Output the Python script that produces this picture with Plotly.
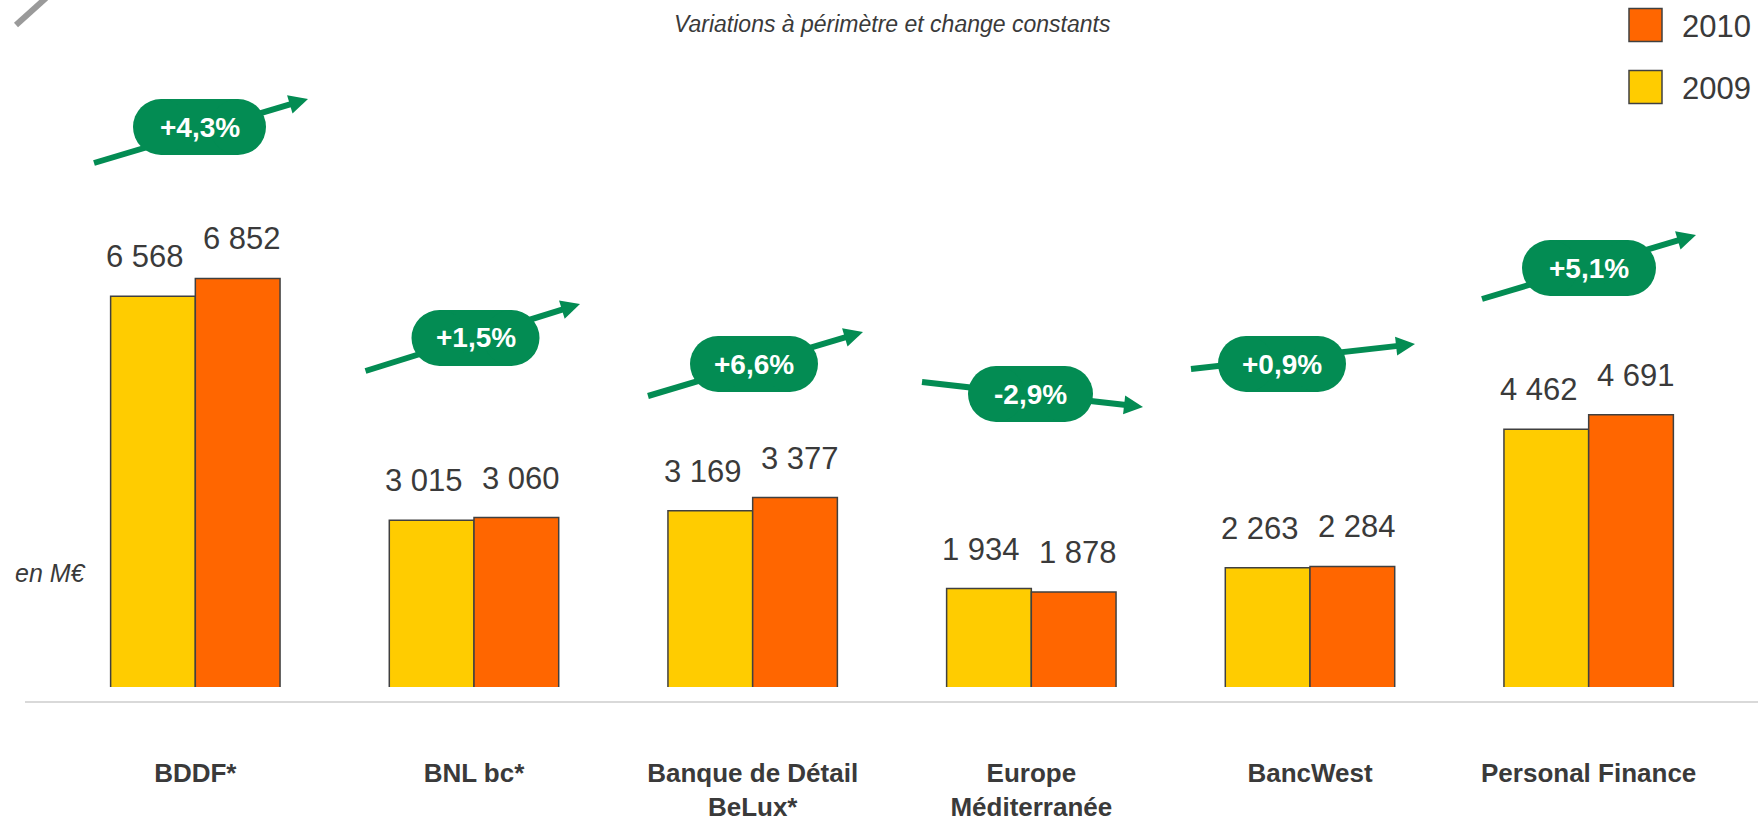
import numpy as np
import plotly.graph_objects as go

# ---------------- data ----------------
categories = ["BDDF*", "BNL bc*", "Banque de Détail<br>BeLux*",
              "Europe<br>Méditerranée", "BancWest", "Personal Finance"]
series_names = ["2009", "2010"]
values_2009 = [6568, 3015, 3169, 1934, 2263, 4462]
values_2010 = [6852, 3060, 3377, 1878, 2284, 4691]
growth_labels = ["+4,3%", "+1,5%", "+6,6%", "-2,9%", "+0,9%", "+5,1%"]
title_text = "Variations à périmètre et change constants"
unit_text = "en M€"

# ---------------- layout constants ----------------
FIG_W, FIG_H = 1758, 821
M_L, M_R, M_T, M_B = 56, 30, 60, 134
PW, PH = FIG_W - M_L - M_R, FIG_H - M_T - M_B
Y0 = 372
PX_PER_UNIT = 0.06305
Y1 = Y0 + PH / PX_PER_UNIT

C2009, C2010 = "#FFCC00", "#FF6600"
EDGE = "#404040"
GREEN = "#038C53"
TXT = "#3a3a3a"
SANS = "Liberation Sans, Arial, sans-serif"


def px(x):
    return (x - M_L) / PW


def py(y):
    return (FIG_H - M_B - y) / PH


def fmt(v):
    return f"{v:,}".replace(",", " ")


fig = go.Figure()
for name, vals, col in [(series_names[0], values_2009, C2009),
                        (series_names[1], values_2010, C2010)]:
    fig.add_trace(go.Bar(
        x=categories, y=vals, name=name,
        marker=dict(color=col, line=dict(color=EDGE, width=1.5)),
        showlegend=False, hoverinfo="x+y+name"))

annotations = []
shapes = []

# value labels
for vals, xs in [(values_2009, -50), (values_2010, 47)]:
    for c, v in zip(categories, vals):
        annotations.append(dict(
            x=c, y=v, xref="x", yref="y", text=fmt(v), showarrow=False,
            xanchor="center", yanchor="bottom", xshift=xs, yshift=20,
            font=dict(family=SANS, size=31, color=TXT)))

# growth badges (decorative geometry in pixels)
badge_geom = [
    # pill centre x, y, width ; arrow start (x, y) ; arrow tip (x, y)
    (199.5, 127, 133, (94, 163), (308, 99)),
    (475.5, 338, 128, (365.5, 371), (580, 304)),
    (754, 364, 128, (648, 396), (863, 332)),
    (1030.5, 394, 125, (922, 382), (1143, 407)),
    (1282, 364, 128, (1191, 369), (1415, 344)),
    (1589, 268, 134, (1482, 299), (1696, 235)),
]
PILL_H = 56
for lab, (cx, cy, w, a0, a1) in zip(growth_labels, badge_geom):
    a0 = np.array(a0, float)
    a1 = np.array(a1, float)
    d = a1 - a0
    d /= np.hypot(*d)
    nrm = np.array([-d[1], d[0]])
    base = a1 - d * 19
    shapes.append(dict(type="line", xref="paper", yref="paper",
                       x0=px(a0[0]), y0=py(a0[1]), x1=px(base[0] + d[0] * 2), y1=py(base[1] + d[1] * 2),
                       line=dict(color=GREEN, width=6)))
    p1 = base + nrm * 9.5
    p2 = base - nrm * 9.5
    path = (f"M{px(a1[0])},{py(a1[1])} L{px(p1[0])},{py(p1[1])} "
            f"L{px(p2[0])},{py(p2[1])} Z")
    shapes.append(dict(type="path", xref="paper", yref="paper", path=path,
                       fillcolor=GREEN, line=dict(width=0)))
    r = PILL_H / 2
    shapes.append(dict(type="rect", xref="paper", yref="paper",
                       x0=px(cx - w / 2 + r), x1=px(cx + w / 2 - r),
                       y0=py(cy - r), y1=py(cy + r),
                       fillcolor=GREEN, line=dict(width=0)))
    for ccx in (cx - w / 2 + r, cx + w / 2 - r):
        shapes.append(dict(type="circle", xref="paper", yref="paper",
                           x0=px(ccx - r), x1=px(ccx + r),
                           y0=py(cy - r), y1=py(cy + r),
                           fillcolor=GREEN, line=dict(width=0)))
    annotations.append(dict(x=px(cx), y=py(cy), xref="paper", yref="paper",
                            text=f"<b>{lab}</b>", showarrow=False,
                            xanchor="center", yanchor="middle",
                            font=dict(family=SANS, size=28, color="white")))

# baseline grey rule
shapes.append(dict(type="line", xref="paper", yref="paper",
                   x0=px(25), x1=px(1758), y0=py(702), y1=py(702),
                   line=dict(color="#d9d9d9", width=2)))
# pencil mark top-left
shapes.append(dict(type="line", xref="paper", yref="paper",
                   x0=px(16), y0=py(25), x1=px(46), y1=py(-2),
                   line=dict(color="#9a9a9a", width=6)))

# manual legend
for name, col, yc in [(series_names[1], C2010, 25), (series_names[0], C2009, 87)]:
    shapes.append(dict(type="rect", xref="paper", yref="paper",
                       x0=px(1629), x1=px(1662), y0=py(yc - 16.5), y1=py(yc + 16.5),
                       fillcolor=col, line=dict(color=EDGE, width=1.5)))
    annotations.append(dict(x=px(1680), y=py(yc + 1), xref="paper", yref="paper",
                            text=name, showarrow=False, xanchor="left", yanchor="middle",
                            font=dict(family=SANS, size=31, color=TXT)))

# title & unit
annotations.append(dict(x=px(892), y=py(24), xref="paper", yref="paper",
                        text=f"<i>{title_text}</i>", showarrow=False,
                        xanchor="center", yanchor="middle",
                        font=dict(family=SANS, size=23, color=TXT)))
annotations.append(dict(x=px(13), y=py(573), xref="paper", yref="paper",
                        text=f"<i>{unit_text}</i>", showarrow=False,
                        xanchor="left", yanchor="middle",
                        font=dict(family=SANS, size=25, color=TXT)))

fig.update_layout(
    width=FIG_W, height=FIG_H,
    margin=dict(l=M_L, r=M_R, t=M_T, b=M_B, autoexpand=False),
    paper_bgcolor="white", plot_bgcolor="white",
    barmode="group", bargap=0.392, bargroupgap=0,
    showlegend=False,
    shapes=shapes, annotations=annotations,
    xaxis=dict(type="category", range=[-0.5, 5.5], showgrid=False, zeroline=False,
               showline=False, ticks="outside", ticklen=63, tickcolor="rgba(0,0,0,0)",
               automargin=False, tickprefix="<b>", ticksuffix="</b>",
               tickfont=dict(family=SANS, size=26, color=TXT)),
    yaxis=dict(range=[Y0, Y1], visible=False, showgrid=False, zeroline=False,
               automargin=False),
)

fig.write_html("out.html", config={"displayModeBar": False},
               post_script="document.body.style.margin='0';")
